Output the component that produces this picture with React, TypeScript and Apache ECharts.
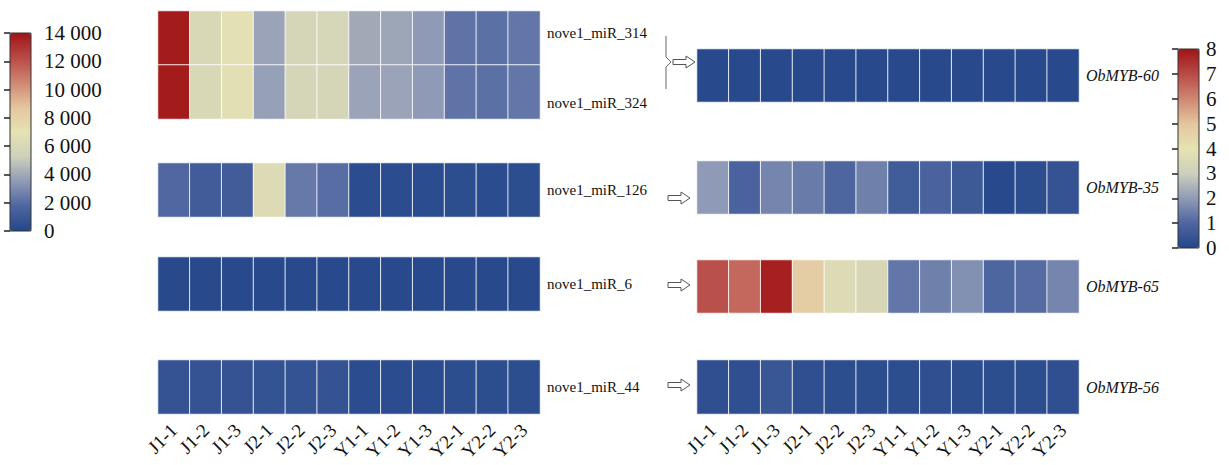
import React, { useEffect, useRef } from "react";
import * as echarts from "echarts";

const samples = ["J1-1", "J1-2", "J1-3", "J2-1", "J2-2", "J2-3", "Y1-1", "Y1-2", "Y1-3", "Y2-1", "Y2-2", "Y2-3"];

// left panel (miRNA), top block has two rows
const mirBlock1Rows = ["nove1_miR_314", "nove1_miR_324"];
const mir314 = [13800, 6000, 6800, 3800, 5800, 5900, 4000, 3900, 3500, 2200, 2100, 2300];
const mir324 = [13800, 6000, 6700, 3700, 5800, 5800, 3800, 3800, 3500, 2200, 2100, 2300];
const mir126 = [1800, 1200, 1200, 6300, 2400, 2000, 300, 300, 300, 350, 300, 350];
const mir6 = [150, 150, 150, 150, 150, 150, 150, 150, 150, 150, 150, 150];
const mir44 = [700, 700, 700, 650, 650, 700, 300, 300, 300, 350, 350, 350];

// right panel (targets)
const mybNames = ["ObMYB-60", "ObMYB-35", "ObMYB-65", "ObMYB-56"];
const myb60 = [0.1, 0.1, 0.1, 0.1, 0.1, 0.1, 0.1, 0.1, 0.1, 0.1, 0.1, 0.1];
const myb35 = [2.0, 0.9, 1.6, 1.4, 1.0, 1.5, 0.7, 0.9, 0.6, 0.1, 0.2, 0.4];
const myb65 = [6.9, 6.5, 7.8, 4.8, 3.6, 3.4, 1.3, 1.5, 1.8, 1.0, 1.1, 1.6];
const myb56 = [0.25, 0.25, 0.5, 0.25, 0.2, 0.2, 0.2, 0.25, 0.2, 0.2, 0.2, 0.25];

const leftTicks = { min: 0, max: 14000, interval: 2000 };
const rightTicks = { min: 0, max: 8, interval: 1 };

const palette = ["#24478a", "#4e66a0", "#8f9ab6", "#cdd0bb", "#e6e2b2", "#e3c6a0", "#cf8672", "#b84a48", "#a01515"];

const FONT = "Liberation Serif";

export default function App() {
  const ref = useRef<HTMLDivElement>(null);
  useEffect(() => {
    document.body.style.margin = "0";
    const chart = echarts.init(ref.current!, null, { renderer: "svg" });

    const leftBlocks = [
      { rows: mirBlock1Rows, values: [mir314, mir324], top: 11, height: 108 },
      { rows: ["nove1_miR_126"], values: [mir126], top: 163, height: 54 },
      { rows: ["nove1_miR_6"], values: [mir6], top: 257, height: 54 },
      { rows: ["nove1_miR_44"], values: [mir44], top: 360, height: 54 },
    ];
    const rightBlocks = [
      { rows: [mybNames[0]], values: [myb60], top: 49, height: 53 },
      { rows: [mybNames[1]], values: [myb35], top: 161, height: 53 },
      { rows: [mybNames[2]], values: [myb65], top: 260, height: 53 },
      { rows: [mybNames[3]], values: [myb56], top: 360, height: 54 },
    ];

    const grids: any[] = [];
    const xAxes: any[] = [];
    const yAxes: any[] = [];
    const series: any[] = [];

    const addBlock = (b: any, left: number, idx: number, isLast: boolean, italic: boolean) => {
      grids.push({ left, width: 382, top: b.top, height: b.height });
      xAxes.push({
        type: "category",
        gridIndex: idx,
        data: samples,
        show: isLast,
        axisLine: { show: false },
        axisTick: { show: false },
        axisLabel: {
          show: isLast,
          rotate: 45,
          margin: 13,
          fontFamily: FONT,
          fontSize: 19,
          color: "#111",
          interval: 0,
        },
      });
      const twoRows = b.rows.length > 1;
      yAxes.push({
        type: "category",
        gridIndex: idx,
        data: b.rows,
        inverse: true,
        position: "right",
        axisLine: { show: false },
        axisTick: { show: false },
        axisLabel: {
          margin: 7,
          fontFamily: FONT,
          fontSize: italic ? 16 : 15,
          fontStyle: italic ? "italic" : "normal",
          color: "#111",
          formatter: twoRows
            ? (v: string) => (v === b.rows[0] ? `{a|${v}}` : `{b|${v}}`)
            : undefined,
          rich: twoRows
            ? {
                a: { fontFamily: FONT, fontSize: 15, color: "#111", padding: [0, 0, 10, 0] },
                b: { fontFamily: FONT, fontSize: 15, color: "#111", padding: [22, 0, 0, 0] },
              }
            : undefined,
        },
      });
      const data: any[] = [];
      b.values.forEach((row: number[], r: number) => row.forEach((v, c) => data.push([c, r, v])));
      series.push({
        type: "heatmap",
        xAxisIndex: idx,
        yAxisIndex: idx,
        data,
        itemStyle: { borderColor: "rgba(255,255,255,0.85)", borderWidth: 1 },
        emphasis: { disabled: true },
      });
    };

    leftBlocks.forEach((b, i) => addBlock(b, 158, i, i === 3, false));
    rightBlocks.forEach((b, i) => addBlock(b, 697, i + 4, i === 3, true));

    // colour bar axes
    const barAxis = (gIdx: number, t: any, margin: number, fmt: (v: number) => string) => {
      xAxes.push({ type: "value", gridIndex: gIdx, show: false, min: 0, max: 1 });
      yAxes.push({
        type: "value",
        gridIndex: gIdx,
        min: t.min,
        max: t.max,
        interval: t.interval,
        position: "right",
        z: 10,
        axisLine: { show: false },
        splitLine: { show: false },
        axisTick: { show: true, inside: true, length: 6, lineStyle: { color: "#222", width: 1.5 } },
        axisLabel: { margin, fontFamily: FONT, fontSize: 21, color: "#111", formatter: fmt },
      });
    };
    grids.push({ left: 10, top: 33, width: 21, height: 198, show: true, z: 10, borderColor: "#333", borderWidth: 1, backgroundColor: "transparent" });
    barAxis(8, leftTicks, 13, (v: number) => (v >= 1000 ? `${Math.floor(v / 1000)} ${String(v % 1000).padStart(3, "0")}` : String(v)));
    grids.push({ left: 1178, top: 49, width: 21, height: 199, show: true, z: 10, borderColor: "#333", borderWidth: 1, backgroundColor: "transparent" });
    barAxis(9, rightTicks, 7, (v: number) => String(v));

    const arrow = (x: number, y: number) => ({
      type: "polygon",
      shape: {
        points: [
          [x, y - 2.5], [x + 13, y - 2.5], [x + 13, y - 6], [x + 22, y],
          [x + 13, y + 6], [x + 13, y + 2.5], [x, y + 2.5],
        ],
      },
      style: { fill: "#fff", stroke: "#555", lineWidth: 1 },
    });

    chart.setOption({
      animation: false,
      backgroundColor: "#fff",
      grid: grids,
      xAxis: xAxes,
      yAxis: yAxes,
      visualMap: [
        {
          type: "continuous",
          min: leftTicks.min,
          max: leftTicks.max,
          seriesIndex: [0, 1, 2, 3],
          left: 10,
          top: 33,
          padding: 0,
          itemWidth: 21,
          itemHeight: 198,
          calculable: false,
          hoverLink: false,
          inRange: { color: palette },
        },
        {
          type: "continuous",
          min: rightTicks.min,
          max: rightTicks.max,
          seriesIndex: [4, 5, 6, 7],
          left: 1178,
          top: 49,
          padding: 0,
          itemWidth: 21,
          itemHeight: 199,
          calculable: false,
          hoverLink: false,
          inRange: { color: palette },
        },
      ],
      graphic: [
        {
          type: "polyline",
          shape: { points: [[666, 36], [666, 57], [671, 62], [666, 67], [666, 89]] },
          style: { stroke: "#666", lineWidth: 1, fill: null },
        },
        arrow(673, 62),
        arrow(668, 198),
        arrow(668, 285),
        arrow(668, 385),
      ],
      series,
    });
    return () => chart.dispose();
  }, []);
  return <div ref={ref} style={{ width: 1229, height: 465 }} />;
}
